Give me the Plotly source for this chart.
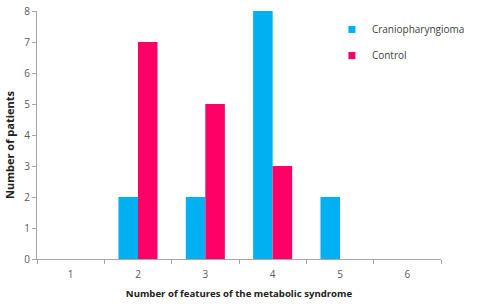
import plotly.graph_objects as go

categories = ["1", "2", "3", "4", "5", "6"]
cranio = [0, 2, 2, 8, 2, 0]
control = [0, 7, 5, 3, 0, 0]
y_ticks = [0, 1, 2, 3, 4, 5, 6, 7, 8]
series_names = ["Craniopharyngioma", "Control"]
series_colors = ["#00B0F0", "#FF0066"]
x_title = "Number of features of the metabolic syndrome"
y_title = "Number of patients"

font = "Open Sans, Liberation Sans, sans-serif"

fig = go.Figure()
for vals, name, col in zip([cranio, control], series_names, series_colors):
    fig.add_trace(go.Bar(x=categories, y=vals, name=name,
                         marker=dict(color=col, line=dict(width=0)),
                         showlegend=False))
for i, (name, col) in enumerate(zip(series_names, series_colors)):
    fig.add_trace(go.Scatter(x=[None], y=[None], mode="markers", name=name,
                             marker=dict(symbol="square", size=7, color=col),
                             legendgroup=str(i)))

fig.add_annotation(text="<b>" + y_title + "</b>", textangle=-90,
                   xref="paper", yref="paper", x=0, y=0.46,
                   xanchor="center", yanchor="middle", xshift=-27,
                   showarrow=False, font=dict(size=11, color="#202020"))

fig.update_layout(
    width=490, height=307,
    margin=dict(l=37, r=49, t=11, b=48, autoexpand=False),
    paper_bgcolor="white", plot_bgcolor="white",
    barmode="group", bargap=0.42, bargroupgap=0,
    hovermode=False,
    font=dict(family=font, size=10, color="#595959"),
    showlegend=True,
    legend=dict(x=0.73, y=0.984, xanchor="left", yanchor="top",
                traceorder="grouped", tracegroupgap=7,
                font=dict(size=10, color="#404040"),
                itemwidth=30, bgcolor="rgba(0,0,0,0)"),
    xaxis=dict(type="category", categoryorder="array", categoryarray=categories,
               range=[-0.5, 5.5], automargin=False,
               showline=True, linecolor="#A6A6A6", linewidth=1,
               ticks="outside", tickson="boundaries", ticklen=4, tickcolor="#A6A6A6",
               ticklabelstandoff=6,
               showgrid=False, zeroline=False,
               tickfont=dict(size=10, color="#595959"),
               title=dict(text="<b>" + x_title + "</b>",
                          font=dict(size=9.6, color="#202020"), standoff=10)),
    yaxis=dict(range=[0, 8], tickvals=y_ticks, automargin=False,
               showline=True, linecolor="#A6A6A6", linewidth=1,
               ticks="outside", ticklen=4, tickcolor="#A6A6A6",
               showgrid=False, zeroline=False,
               tickfont=dict(size=10, color="#595959")),
)

fig.write_html("out.html", config={"displayModeBar": False},
               post_script="document.body.style.margin='0';")
